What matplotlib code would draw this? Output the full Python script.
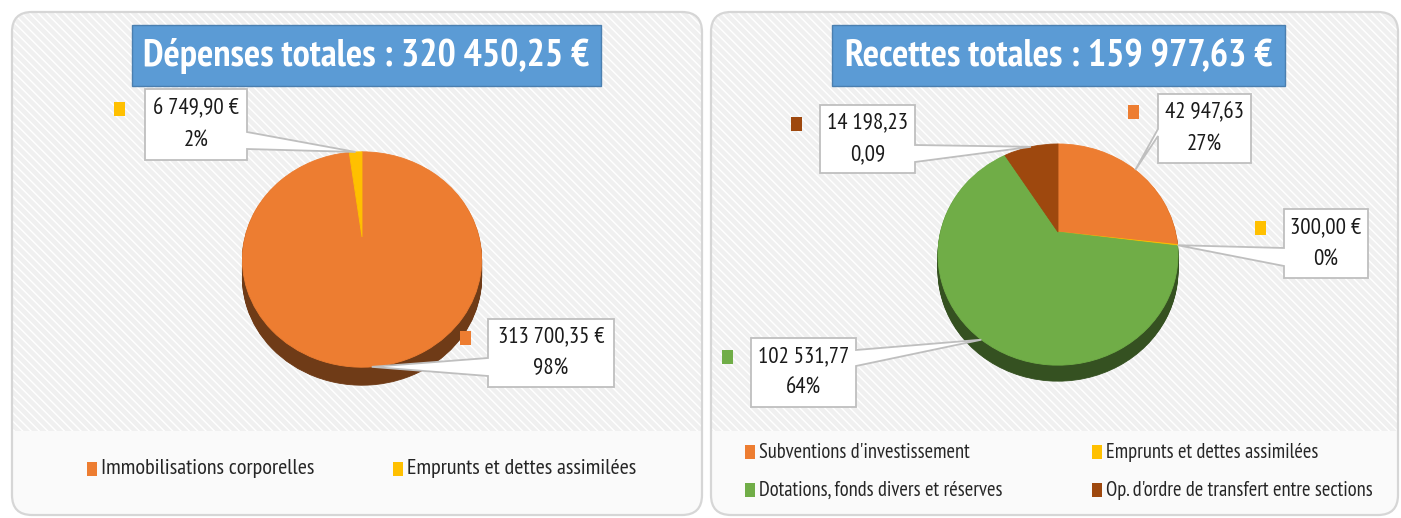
import numpy as np
import matplotlib
matplotlib.use("Agg")
import matplotlib.pyplot as plt
import matplotlib.colors as mcolors
from matplotlib.patches import FancyBboxPatch, Rectangle, Polygon
from matplotlib.transforms import Transform, Affine2D

W, H = 1401, 518
plt.rcParams["font.family"] = ["PT Sans Narrow", "Liberation Sans", "DejaVu Sans"]
plt.rcParams["hatch.linewidth"] = 1.0

# ------------------------------------------------------------------ data
DEP_TITLE = "Dépenses totales : 320 450,25 €"
DEP_LABELS = ["Immobilisations corporelles", "Emprunts et dettes assimilées"]
DEP_VALUES = [313700.35, 6749.90]
DEP_TEXT = [("313 700,35 €", "98%"), ("6 749,90 €", "2%")]
DEP_COLORS = ["#ED7D31", "#FFC000"]

REC_TITLE = "Recettes totales : 159 977,63 €"
REC_LABELS = ["Subventions d'investissement", "Emprunts et dettes assimilées",
              "Dotations, fonds divers et réserves",
              "Op. d'ordre de transfert entre sections"]
REC_VALUES = [42947.63, 300.00, 102531.77, 14198.23]
REC_TEXT = [("42 947,63", "27%"), ("300,00 €", "0%"),
            ("102 531,77", "64%"), ("14 198,23", "0,09")]
REC_COLORS = ["#ED7D31", "#FFC000", "#70AD47", "#9E480E"]


class Tilt(Transform):
    """Perspective view of a flat unit disc (Excel-like 3D pie)."""
    input_dims = output_dims = 2

    def __init__(self, a, b, k):
        super().__init__()
        self.a, self.b, self.k = a, b, k

    def transform_non_affine(self, values):
        values = np.asarray(values, float)
        u, v = values[:, 0], values[:, 1]
        w = 1 + self.k * v
        return np.column_stack([self.a * u / w, -self.b * v / w])


def darken(c, f=0.47):
    r, g, b = mcolors.to_rgb(c)
    return (r * f, g * f, b * f)


def draw_pie(ax, values, colors, cx, cy, a, b, k, depth):
    tilt = Tilt(a, b, k)
    side = [darken(c) for c in colors]
    for d in range(depth, 0, -1):
        wedges, _ = ax.pie(values, colors=side, startangle=90,
                           counterclock=False, wedgeprops=dict(linewidth=0.6))
        for w in wedges:
            w.set_edgecolor(w.get_facecolor())
            w.set_transform(tilt + Affine2D().translate(cx, cy + d) + ax.transData)
    wedges, _ = ax.pie(values, colors=colors, startangle=90,
                       counterclock=False, wedgeprops=dict(linewidth=0.6))
    for w in wedges:
        w.set_edgecolor(w.get_facecolor())
        w.set_transform(tilt + Affine2D().translate(cx, cy) + ax.transData)
    frac = np.asarray(values) / np.sum(values)
    start = np.concatenate([[0], np.cumsum(frac)[:-1]])
    mid = np.deg2rad(90 - 360 * (start + frac / 2))
    pts = tilt.transform(np.column_stack([np.cos(mid), np.sin(mid)]))
    return pts + [cx, cy]


def callout(ax, box, side, attach, anchor, lines, color, square):
    x0, y0, x1, y1 = box
    ya, yb = attach
    if side == "r":
        verts = [(x0, y0), (x1, y0), (x1, ya), anchor, (x1, yb), (x1, y1), (x0, y1)]
    else:
        verts = [(x0, y0), (x1, y0), (x1, y1), (x0, y1), (x0, yb), anchor, (x0, ya)]
    ax.add_patch(Polygon(verts, closed=True, facecolor="white",
                         edgecolor="#BFBFBF", lw=1.3, zorder=5))
    xc, yc = (x0 + x1) / 2, (y0 + y1) / 2
    ax.text(xc, yc - 16, lines[0], ha="center", va="center", fontsize=16.5,
            color="#1a1a1a", zorder=6)
    ax.text(xc, yc + 16, lines[1], ha="center", va="center", fontsize=16.5,
            color="#1a1a1a", zorder=6)
    ax.add_patch(Rectangle(square, 11, 14, facecolor=color, lw=0, zorder=6))


def panel(ax, x0, x1, title, tbox):
    shape = FancyBboxPatch((x0, 12), x1 - x0, 503,
                           boxstyle="round,pad=0,rounding_size=20",
                           facecolor="#F0F0F0", edgecolor="white", lw=0,
                           hatch="\\\\\\\\", zorder=0)
    ax.add_patch(shape)
    leg = Rectangle((x0, 431), x1 - x0, 90, facecolor="#FAFAFA",
                    edgecolor="none", zorder=0.5)
    leg.set_clip_path(shape)
    ax.add_patch(leg)
    ax.add_patch(FancyBboxPatch((x0, 12), x1 - x0, 503,
                                boxstyle="round,pad=0,rounding_size=20",
                                facecolor="none", edgecolor="#D6D6D6", lw=1.6,
                                zorder=0.8))
    bx0, by0, bx1, by1 = tbox
    ax.add_patch(Rectangle((bx0, by0), bx1 - bx0, by1 - by0, facecolor="#5B9BD5",
                           edgecolor="#4A7FB0", lw=1, zorder=4))
    ax.text((bx0 + bx1) / 2, (by0 + by1) / 2 + 1, title, ha="center", va="center",
            fontsize=27.5, fontweight="bold", color="white", zorder=5)


def legend_item(ax, x, y, color, label, size):
    ax.add_patch(Rectangle((x, y - 7), 10, 14, facecolor=color, lw=0, zorder=5))
    ax.text(x + 14, y, label, ha="left", va="center", fontsize=size,
            color="#262626", zorder=5)


fig = plt.figure(figsize=(W / 100, H / 100), dpi=100)
fig.patch.set_facecolor("white")
ax = fig.add_axes([0, 0, 1, 1])

panel(ax, 12, 702, DEP_TITLE, (132, 25, 601, 86))
panel(ax, 711, 1398, REC_TITLE, (832, 25, 1285, 86))

# left pie
pts = draw_pie(ax, DEP_VALUES, DEP_COLORS, 362, 237, 117, 103, 0.209, 18)
callout(ax, (488, 319, 614, 387), "l", (358, 376), pts[0], DEP_TEXT[0],
        DEP_COLORS[0], (460, 331))
callout(ax, (145, 89, 247, 160), "r", (132, 149), pts[1], DEP_TEXT[1],
        DEP_COLORS[1], (114, 102))

# right pie
pts = draw_pie(ax, REC_VALUES, REC_COLORS, 1058, 232, 117.5, 106, 0.204, 16)
callout(ax, (1158, 94, 1251, 163), "l", (129, 136), pts[0], REC_TEXT[0],
        REC_COLORS[0], (1128, 105))
callout(ax, (1284, 209, 1368, 278), "l", (248, 266), pts[1], REC_TEXT[1],
        REC_COLORS[1], (1255, 221))
callout(ax, (751, 338, 856, 407), "r", (350, 366), pts[2], REC_TEXT[2],
        REC_COLORS[2], (722, 350))
callout(ax, (820, 105, 915, 173), "r", (145, 162), pts[3], REC_TEXT[3],
        REC_COLORS[3], (791, 117))

# legends
legend_item(ax, 87, 469, DEP_COLORS[0], DEP_LABELS[0], 16)
legend_item(ax, 393, 469, DEP_COLORS[1], DEP_LABELS[1], 16)
legend_item(ax, 745, 452, REC_COLORS[0], REC_LABELS[0], 14.8)
legend_item(ax, 1092, 452, REC_COLORS[1], REC_LABELS[1], 14.8)
legend_item(ax, 745, 490, REC_COLORS[2], REC_LABELS[2], 14.8)
legend_item(ax, 1092, 490, REC_COLORS[3], REC_LABELS[3], 14.8)

ax.set_aspect("auto")
ax.set_xlim(0, W)
ax.set_ylim(H, 0)
ax.axis("off")

fig.savefig("out.png", dpi=100, facecolor="white")
